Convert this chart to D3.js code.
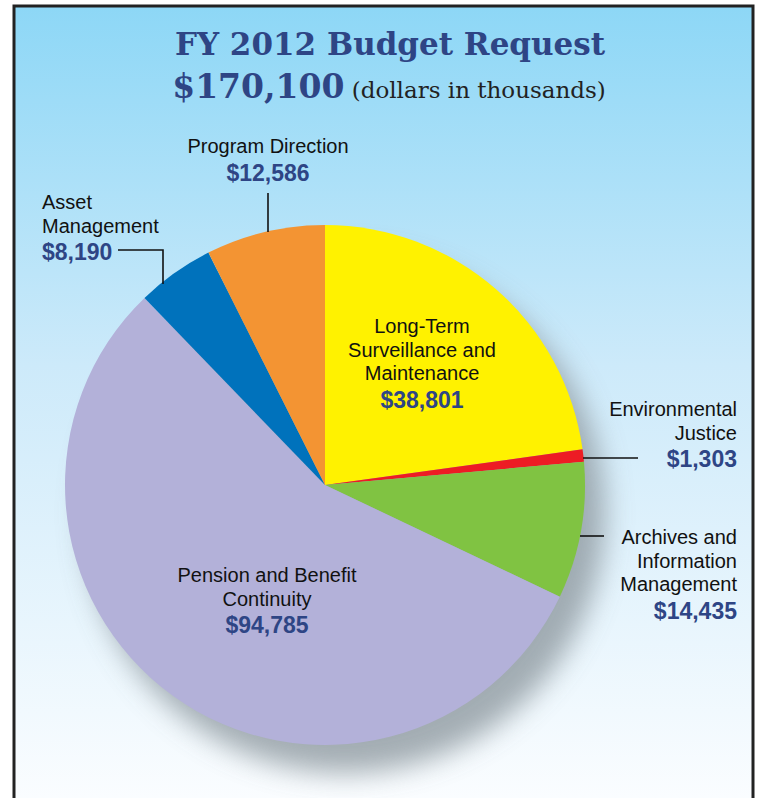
<!DOCTYPE html>
<html><head><meta charset="utf-8">
<script src="https://cdn.jsdelivr.net/npm/d3@7"></script>
<style>html,body{margin:0;padding:0;background:#fff;}svg{display:block;}</style>
</head><body>
<svg id="chart" width="763" height="798"></svg>
<script>
const categories = ["Long-Term Surveillance and Maintenance","Environmental Justice","Archives and Information Management","Pension and Benefit Continuity","Asset Management","Program Direction"];
const values = [38801, 1303, 14435, 94785, 8190, 12586];
const colors = ["#fff200","#ed1c24","#80c342","#b3b1d9","#0072bc","#f39433"];
const labelLines = [["Long-Term","Surveillance and","Maintenance"],["Environmental","Justice"],["Archives and","Information","Management"],["Pension and Benefit","Continuity"],["Asset","Management"],["Program Direction"]];
const titleLines = ["FY 2012 Budget Request","$170,100","(dollars in thousands)"];

const svg = d3.select("#chart");
const defs = svg.append("defs");
const grad = defs.append("linearGradient").attr("id","bg").attr("x1",0).attr("y1",0).attr("x2",0).attr("y2",1);
grad.append("stop").attr("offset","0%").attr("stop-color","#8dd7f6");
grad.append("stop").attr("offset","45%").attr("stop-color","#cdeafa");
grad.append("stop").attr("offset","100%").attr("stop-color","#fbfdff");
const f = defs.append("filter").attr("id","shadow").attr("x","-30%").attr("y","-30%").attr("width","160%").attr("height","160%");
f.append("feGaussianBlur").attr("stdDeviation",14);

svg.append("rect").attr("x",14).attr("y",6).attr("width",739).attr("height",800).attr("fill","url(#bg)")
  .attr("stroke","#222").attr("stroke-width",3);

const fmt = d3.format(",");
const cx = 325, cy = 485, R = 260;
const pie = d3.pie().sort(null).value(d=>d)(values);
const arc = d3.arc().innerRadius(0).outerRadius(R);
const g = svg.append("g").attr("transform",`translate(${cx},${cy})`);
g.append("circle").attr("cx",20).attr("cy",28).attr("r",R).attr("fill","#8f9aa0").attr("opacity",0.8).attr("filter","url(#shadow)");
g.selectAll("path.slice").data(pie).join("path").attr("class","slice")
  .attr("d",arc).attr("fill",(d,i)=>colors[i]);

// Title
const title = svg.append("g").attr("font-family","'DejaVu Serif', serif").attr("fill","#2e4585");
title.append("text").attr("x",390).attr("y",55).attr("text-anchor","middle").attr("font-weight","bold").attr("font-size",31).text(titleLines[0]);
const t2 = title.append("text").attr("x",389).attr("y",98).attr("text-anchor","middle");
t2.append("tspan").attr("font-weight","bold").attr("font-size",33).text(titleLines[1]);
t2.append("tspan").attr("font-size",23).attr("fill","#222").text(" " + titleLines[2]);

// labels
const labelPos = [
  {x:422,y:333,anchor:"middle"},
  {x:737,y:416,anchor:"end"},
  {x:737,y:544,anchor:"end"},
  {x:267,y:582,anchor:"middle"},
  {x:42,y:209,anchor:"start"},
  {x:268,y:153,anchor:"middle"}
];
const lineH = 23.5;
labelPos.forEach((p,i)=>{
  const t = svg.append("text").attr("x",p.x).attr("y",p.y).attr("text-anchor",p.anchor)
    .attr("font-family","'Liberation Sans', Arial, sans-serif");
  labelLines[i].forEach((l,j)=>{
    t.append("tspan").attr("x",p.x).attr("y",p.y + j*lineH).attr("font-size",20).attr("fill","#111").text(l);
  });
  t.append("tspan").attr("x",p.x).attr("y",p.y + labelLines[i].length*lineH + 4)
    .attr("font-size",23).attr("font-weight","bold").attr("fill","#2e4585").text("$" + fmt(values[i]));
});

// leader lines
const leaders = [
  [[583,458],[638,458]],
  [[580,536],[604,536]],
  [[118,250],[163,250],[163,284]],
  [[268,193],[268,232]]
];
leaders.forEach(pts=>{
  svg.append("path").attr("d",d3.line()(pts)).attr("fill","none").attr("stroke","#111").attr("stroke-width",1.6);
});
</script>
</body></html>
